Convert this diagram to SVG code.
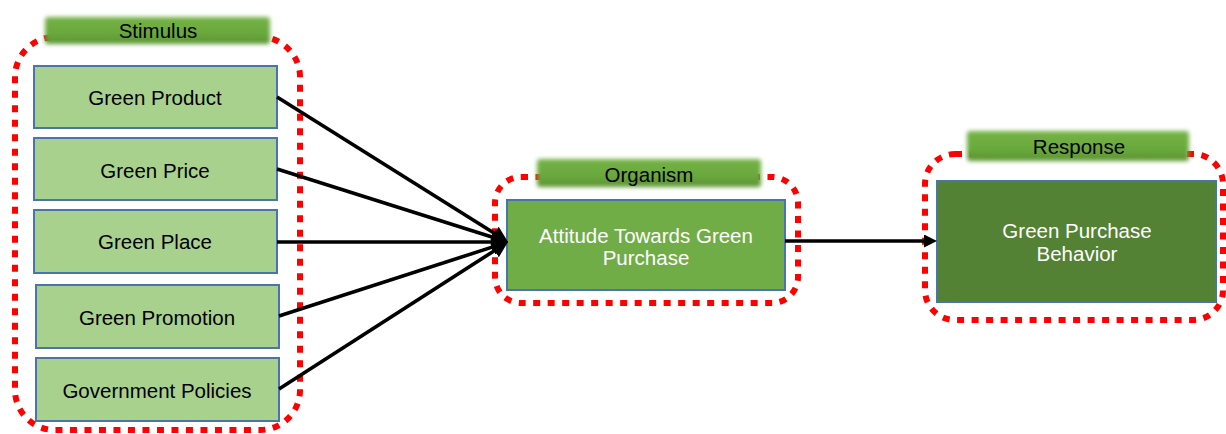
<svg xmlns="http://www.w3.org/2000/svg" width="1226" height="434" viewBox="0 0 1226 434">
  <style>
    text { font-family: "Liberation Sans", Arial, sans-serif; font-size: 20.5px; text-anchor: middle; dominant-baseline: central; }
    .dark { fill: #000000; }
    .light { fill: #ffffff; }
    .group { fill: none; stroke: #ff0000; stroke-width: 6; stroke-dasharray: 7 7.5; }
    .box { stroke: #4a75a8; stroke-width: 2; }
    .s { fill: #a9d18e; }
    .o { fill: #70ad47; }
    .r { fill: #548235; }
    .lbl { fill: url(#lblGrad); filter: url(#soft); }
    .conn { stroke: #000000; stroke-width: 3.6; fill: none; }
  </style>
  <defs>
    <linearGradient id="lblGrad" x1="0" y1="0" x2="0" y2="1">
      <stop offset="0" stop-color="#74b246"/>
      <stop offset="0.6" stop-color="#6aa93d"/>
      <stop offset="1" stop-color="#5b9433"/>
    </linearGradient>
    <filter id="soft" x="-10%" y="-40%" width="120%" height="180%">
      <feGaussianBlur stdDeviation="2"/>
    </filter>
    <marker id="arrowBig" markerUnits="userSpaceOnUse" viewBox="0 0 16 16" refX="5" refY="8" markerWidth="16" markerHeight="16" orient="auto">
      <path d="M0,0 L16,8 L0,16 z" fill="#000000"/>
    </marker>
    <marker id="arrowSmall" markerUnits="userSpaceOnUse" viewBox="0 0 13 13" refX="2" refY="6.5" markerWidth="13" markerHeight="13" orient="auto">
      <path d="M0,0 L13,6.5 L0,13 z" fill="#000000"/>
    </marker>
  </defs>

  <g id="stimulus-group">
    <rect class="group" x="15" y="37" width="285" height="393" rx="40" ry="40"/>
    <rect class="lbl" x="45" y="17" width="225" height="27" rx="3"/>
    <text class="dark" x="158" y="30">Stimulus</text>
  </g>
  <g id="organism-group">
    <rect class="group" x="495" y="177" width="303" height="126" rx="26" ry="26"/>
    <rect class="lbl" x="537" y="159" width="224" height="28" rx="3"/>
    <text class="dark" x="649" y="174">Organism</text>
  </g>
  <g id="response-group">
    <rect class="group" x="925" y="154" width="298" height="166" rx="30" ry="30"/>
    <rect class="lbl" x="967" y="131" width="222" height="30" rx="3"/>
    <text class="dark" x="1079" y="146">Response</text>
  </g>

  <g id="green-product">
    <rect class="box s" x="34" y="66" width="243" height="62"/>
    <text class="dark" x="155" y="97">Green Product</text>
  </g>
  <g id="green-price">
    <rect class="box s" x="34" y="138" width="243" height="62"/>
    <text class="dark" x="155" y="170">Green Price</text>
  </g>
  <g id="green-place">
    <rect class="box s" x="34" y="210" width="243" height="63"/>
    <text class="dark" x="155" y="241">Green Place</text>
  </g>
  <g id="green-promotion">
    <rect class="box s" x="36" y="285" width="243" height="63"/>
    <text class="dark" x="157" y="317">Green Promotion</text>
  </g>
  <g id="government-policies">
    <rect class="box s" x="36" y="358" width="243" height="63"/>
    <text class="dark" x="157" y="390">Government Policies</text>
  </g>

  <g id="attitude">
    <rect class="box o" x="507" y="200" width="278" height="90"/>
    <text class="light" x="646" y="235">Attitude Towards Green</text>
    <text class="light" x="646" y="257">Purchase</text>
  </g>

  <g id="behavior">
    <rect class="box r" x="937" y="181" width="279" height="121"/>
    <text class="light" x="1077" y="230">Green Purchase</text>
    <text class="light" x="1077" y="253">Behavior</text>
  </g>

  <g id="connectors">
    <line class="conn" x1="277" y1="97" x2="498.7" y2="236.1" marker-end="url(#arrowBig)"/>
    <line class="conn" x1="277" y1="169" x2="497.5" y2="238.7" marker-end="url(#arrowBig)"/>
    <line class="conn" x1="277" y1="242" x2="497" y2="242" marker-end="url(#arrowBig)"/>
    <line class="conn" x1="279" y1="316" x2="497.5" y2="245.4" marker-end="url(#arrowBig)"/>
    <line class="conn" x1="279" y1="389" x2="498.7" y2="247.9" marker-end="url(#arrowBig)"/>
    <line class="conn" x1="785" y1="241" x2="926" y2="241" marker-end="url(#arrowSmall)"/>
  </g>
</svg>
